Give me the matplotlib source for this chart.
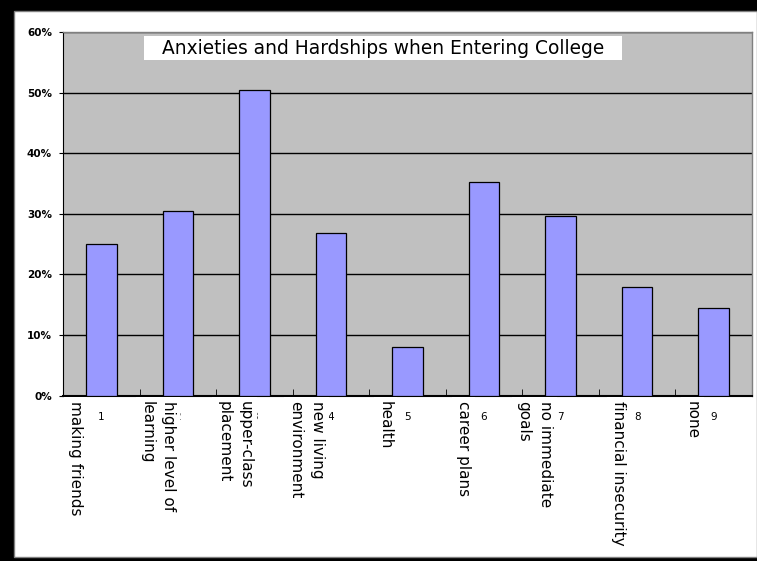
import matplotlib.pyplot as plt
import matplotlib.patches as patches
from matplotlib.ticker import FuncFormatter, MultipleLocator
from matplotlib.transforms import blended_transform_factory

# 데이터
categories = ['making friends', 'higher level of\nlearning', 'upper-class\nplacement',
              'new living\nenvironment', 'health', 'career plans', 'no immediate\ngoals',
              'financial insecurity', 'none']
numbers = ['1', '2', '3', '4', '5', '6', '7', '8', '9']
values = [25.1, 30.4, 50.4, 26.9, 8.0, 35.2, 29.6, 17.9, 14.5]
title = 'Anxieties and Hardships when Entering College'

# 레이블 위치 보정 (막대 중심 기준, 데이터 단위)
label_shift = [-0.24, -0.02, -0.02, -0.08, -0.19, -0.17, -0.10, -0.15, -0.18]

W, H = 757, 561
fig = plt.figure(figsize=(W / 100, H / 100), dpi=100)
fig.patch.set_facecolor('black')

# 흰 패널
panel = patches.Rectangle((14 / W, 1 - 557 / H), (W - 14) / W, (557 - 11) / H,
                          transform=fig.transFigure, facecolor='white',
                          edgecolor='#808080', linewidth=1, zorder=-1)
fig.patches.append(panel)

ax = fig.add_axes([63 / W, 1 - 395.7 / H, 689 / W, 363.7 / H])
ax.set_zorder(1)
ax.set_facecolor('#C0C0C0')

x = list(range(len(values)))
ax.bar(x, values, width=0.4, color='#9999FF', edgecolor='black', linewidth=0.9, zorder=3)

ax.set_xlim(-0.5, len(values) - 0.5)
ax.set_ylim(0, 60)
ax.yaxis.set_major_locator(MultipleLocator(10))
ax.yaxis.set_major_formatter(FuncFormatter(lambda v, p: f'{v:.0f}%'))
ax.grid(axis='y', color='black', linewidth=1, zorder=1)

# x축 눈금
ax.set_xticks(x)
ax.set_xticklabels(numbers, fontsize=7.5)
ax.set_xticks([i + 0.5 for i in x[:-1]], minor=True)
ax.tick_params(axis='x', which='major', length=0, pad=12)
ax.tick_params(axis='x', which='minor', direction='in', length=5, color='black')
ax.tick_params(axis='y', direction='out', length=3, labelsize=7.5, pad=5)
for lab in ax.get_yticklabels():
    lab.set_fontweight('bold')

for side in ['top', 'right']:
    ax.spines[side].set_color('#808080')
    ax.spines[side].set_linewidth(1)
ax.spines['left'].set_color('black')
ax.spines['bottom'].set_color('black')
ax.spines['bottom'].set_linewidth(1.5)

# 카테고리 레이블 (흰 상자가 번호 일부를 가림)
trans = blended_transform_factory(ax.transData, ax.transAxes)
for i, (cat, sh) in enumerate(zip(categories, label_shift)):
    ax.text(i + sh, -0.015, cat, transform=trans, rotation=270, ha='right', va='top',
            multialignment='left', fontsize=11, linespacing=1.55,
            bbox=dict(facecolor='white', edgecolor='none', pad=3), zorder=5, clip_on=False)

# 제목 박스
ax.add_patch(patches.Rectangle((0.1176, 0.923), 0.6938, 0.066, transform=ax.transAxes,
                               facecolor='white', edgecolor='none', zorder=4))
ax.text(0.4645, 0.956, title, transform=ax.transAxes, ha='center', va='center',
        fontsize=13.4, zorder=5)

plt.savefig('out.png', dpi=100, facecolor=fig.get_facecolor())
